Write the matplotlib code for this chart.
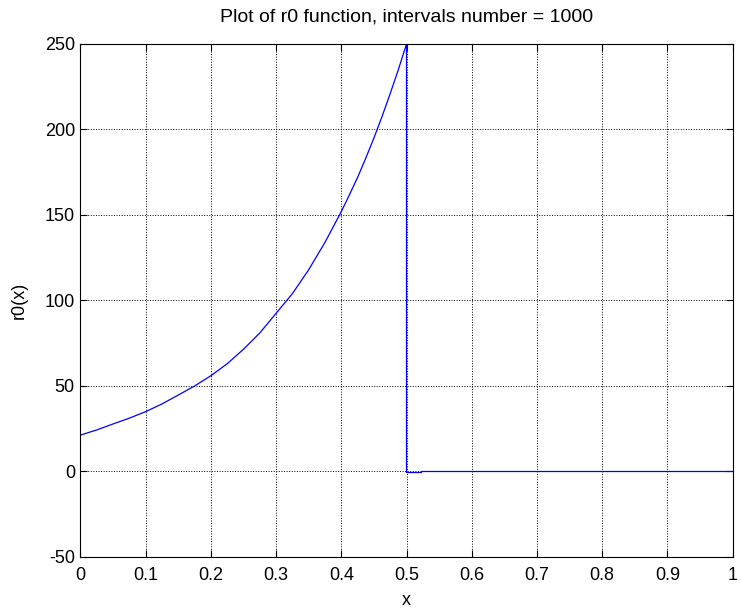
import numpy as np
import matplotlib.pyplot as plt

# values
x_curve = [0.0, 0.025, 0.05, 0.075, 0.1, 0.125, 0.15, 0.175, 0.2, 0.225, 0.25,
           0.275, 0.3, 0.325, 0.35, 0.375, 0.4, 0.4125, 0.425, 0.4375, 0.45,
           0.4625, 0.475, 0.4875, 0.5]
r0_curve = [21.3, 24.3, 27.8, 31.2, 35.0, 39.5, 44.7, 50.0, 56.0, 63.0, 71.5,
            81.0, 92.5, 104.0, 118.0, 134.0, 152.0, 161.8, 172.0, 183.2, 195.0,
            207.6, 221.0, 235.0, 250.0]
x_tail = [0.5, 0.523, 0.523, 1.0]
r0_tail = [-0.6, -0.6, 0.0, 0.0]

x_all = x_curve + x_tail
r0_all = r0_curve + r0_tail

xticks = [0, 0.1, 0.2, 0.3, 0.4, 0.5, 0.6, 0.7, 0.8, 0.9, 1]
xticklabels = ['0', '0.1', '0.2', '0.3', '0.4', '0.5', '0.6', '0.7', '0.8', '0.9', '1']
yticks = [-50, 0, 50, 100, 150, 200, 250]

plt.rcParams['font.family'] = ['Liberation Sans', 'DejaVu Sans']
plt.rcParams['axes.unicode_minus'] = False

fig = plt.figure(figsize=(7.41, 6.10), dpi=100)
ax = fig.add_axes([0.1086, 0.0869, 0.880, 0.841])

ax.plot(x_all, r0_all, color='#0000ff', linewidth=0.9)

ax.set_xlim(0, 1)
ax.set_ylim(-50, 250)
ax.set_xticks(xticks)
ax.set_xticklabels(xticklabels)
ax.set_yticks(yticks)
ax.grid(True, color='black', linestyle=':', linewidth=0.7)
ax.tick_params(direction='in', length=5, top=True, right=True, labelsize=13)
ax.tick_params(axis='x', pad=7)
ax.tick_params(axis='y', pad=4)
for s in ax.spines.values():
    s.set_linewidth(0.8)

ax.set_xlabel('x', fontsize=13, labelpad=6)
ax.set_ylabel('r0(x)', fontsize=13, labelpad=12)
ax.set_title('Plot of r0 function, intervals number = 1000', fontsize=14, pad=16)

fig.savefig('out.png', dpi=100)
